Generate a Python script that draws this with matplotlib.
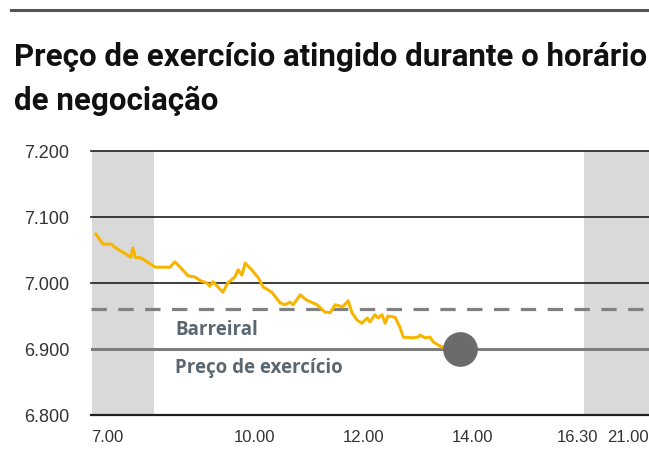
import matplotlib
matplotlib.use("Agg")
import matplotlib.pyplot as plt
from matplotlib.lines import Line2D

# Intraday price path (time in hours, price)
times = [7.08, 7.21, 7.36, 7.45, 7.61, 7.72, 7.76, 7.80, 7.91, 8.13, 8.17, 8.44,
         8.53, 8.64, 8.77, 8.90, 9.01, 9.12, 9.17, 9.23, 9.32, 9.41, 9.50, 9.63,
         9.69, 9.76, 9.82, 9.94, 10.06, 10.15, 10.31, 10.46, 10.55, 10.64, 10.70,
         10.83, 10.95, 11.14, 11.28, 11.38, 11.47, 11.61, 11.71, 11.78, 11.87,
         11.96, 12.06, 12.11, 12.20, 12.26, 12.33, 12.39, 12.44, 12.57, 12.66,
         12.72, 12.90, 12.99, 13.03, 13.12, 13.21, 13.27, 13.36, 13.43, 13.76]
prices = [7.074, 7.059, 7.059, 7.053, 7.045, 7.039, 7.053, 7.039, 7.038, 7.026,
          7.024, 7.024, 7.032, 7.023, 7.011, 7.009, 7.003, 7.000, 6.995, 7.002,
          6.994, 6.986, 7.000, 7.009, 7.020, 7.012, 7.030, 7.020, 7.008, 6.994,
          6.986, 6.970, 6.967, 6.971, 6.967, 6.982, 6.974, 6.967, 6.956, 6.955,
          6.967, 6.964, 6.973, 6.955, 6.944, 6.939, 6.947, 6.941, 6.952, 6.947,
          6.952, 6.939, 6.950, 6.948, 6.933, 6.918, 6.917, 6.918, 6.921, 6.917,
          6.918, 6.911, 6.906, 6.903, 6.900]

strike = 6.900
barrier = 6.96
touch_time = 13.76

y_ticks = [6.8, 6.9, 7.0, 7.1, 7.2]
y_labels = ["6.800", "6.900", "7.000", "7.100", "7.200"]
x_tick_pos = [7.0, 10.0, 12.0, 14.0, 15.91, 16.84]
x_labels = ["7.00", "10.00", "12.00", "14.00", "16.30", "21.00"]

pre_open = (7.0, 8.15)
after_close = (16.04, 17.23)

title_lines = ["Preço de exercício atingido durante o horário", "de negociação"]
barrier_label = "Barreiral"
strike_label = "Preço de exercício"

fig = plt.figure(figsize=(6.49, 4.76), dpi=100)
ax = fig.add_axes([91.5 / 649, 61 / 476, 557.5 / 649, 264 / 476])
ax.set_xlim(7.0, 17.23)
ax.set_ylim(6.8, 7.2)

# Shaded out-of-session periods
ax.axvspan(*pre_open, color="#d9d9d9", lw=0, zorder=0)
ax.axvspan(*after_close, color="#d9d9d9", lw=0, zorder=0)

# Horizontal grid
for yv in y_ticks:
    if yv == strike:
        continue
    ax.axhline(yv, color="#1e1e1e", lw=1.6 if yv == 6.8 else 1.2,
               clip_on=False, zorder=1)

# Strike and barrier levels
ax.axhline(strike, color="#7d7d7d", lw=2.2, zorder=2)
ax.axhline(barrier, color="#808080", lw=2.3, dashes=(4.8, 3.6), zorder=2)

# Price path and touch point
ax.plot(times, prices, color="#F7B500", lw=2.2, zorder=3,
        solid_joinstyle="round")
ax.plot([touch_time], [strike], "o", ms=25, color="#6b6b6b",
        mec="none", zorder=4)

lab_kw = dict(fontsize=13.5, fontweight="bold", color="#5b6770",
              family="Open Sans", ha="left", va="baseline")
ax.text(8.53, 6.921, barrier_label, **lab_kw)
ax.text(8.53, 6.864, strike_label, **lab_kw)

for s in ax.spines.values():
    s.set_visible(False)

ax.set_yticks(y_ticks)
ax.set_yticklabels(y_labels, fontsize=13, family="Liberation Sans",
                   color="#333333")
ax.set_xticks(x_tick_pos)
ax.set_xticklabels(x_labels, fontsize=12, family="Liberation Sans",
                   color="#333333")
ax.xaxis.get_ticklabels()[0].set_horizontalalignment("left")
ax.tick_params(axis="y", length=0, pad=16)
ax.tick_params(axis="x", length=0, pad=11)

# Top rule and two-line title
fig.add_artist(Line2D([11 / 649, 1.0], [1 - 10 / 476, 1 - 10 / 476],
                      color="#555555", lw=2.2))
for i, line in enumerate(title_lines):
    fig.text(14 / 649, 1 - (66 + 44 * i) / 476, line, fontsize=22.5,
             fontweight="bold", family="Roboto", color="#111111",
             ha="left", va="baseline")

fig.savefig("out.png", dpi=100)
